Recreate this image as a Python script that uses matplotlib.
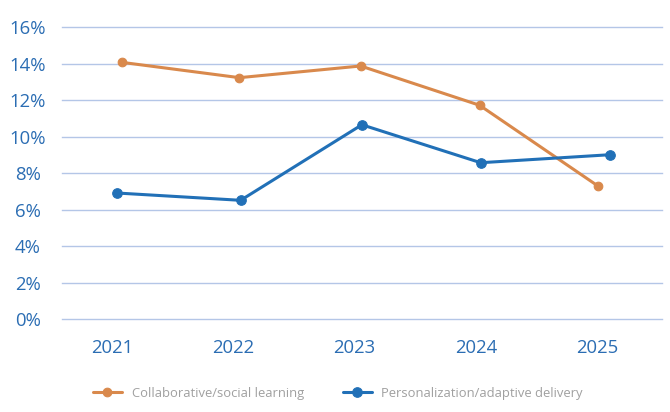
import matplotlib
matplotlib.use("Agg")
import matplotlib.pyplot as plt
from matplotlib.ticker import FuncFormatter

plt.rcParams['font.family'] = ['Open Sans', 'DejaVu Sans']

years = [2021, 2022, 2023, 2024, 2025]
collab_x = [2021.08, 2022.05, 2023.05, 2024.03, 2025.01]
collab_y = [14.08, 13.24, 13.88, 11.73, 7.29]
person_x = [2021.04, 2022.06, 2023.06, 2024.04, 2025.11]
person_y = [6.92, 6.52, 10.66, 8.58, 9.02]
series_names = ["Collaborative/social learning", "Personalization/adaptive delivery"]
y_ticks = [0, 2, 4, 6, 8, 10, 12, 14, 16]

orange = "#D9894C"
blue = "#2170B7"
tick_color = "#2B6DB3"
grid_color = "#B4C6E7"

fig = plt.figure(figsize=(6.7, 4.12), dpi=100)
W, H = 670, 412
left, right, bottom, top = 62, 662, 319.3, 27.3
ax = fig.add_axes([left / W, 1 - bottom / H, (right - left) / W, (bottom - top) / H])

ax.plot(collab_x, collab_y, color=orange, lw=2.2, marker='o', ms=6.2, mew=0.8,
        label=series_names[0], solid_capstyle='round', zorder=3)
ax.plot(person_x, person_y, color=blue, lw=2.2, marker='o', ms=6.9, mew=0.8,
        label=series_names[1], solid_capstyle='round', zorder=3)

ax.set_xlim(2020.587, 2025.535)
ax.set_ylim(0, 16)
ax.set_xticks(years)
ax.set_xticklabels([str(y) for y in years])
ax.set_yticks(y_ticks)
ax.yaxis.set_major_formatter(FuncFormatter(lambda v, p: f"{int(v)}%"))
ax.grid(axis='y', color=grid_color, lw=1.0)
for gl in ax.get_ygridlines():
    gl.set_clip_on(False)
ax.set_axisbelow(True)
for s in ax.spines.values():
    s.set_visible(False)
ax.tick_params(axis='both', length=0, labelsize=13.3, labelcolor=tick_color)
ax.tick_params(axis='x', pad=14)
ax.tick_params(axis='y', pad=24.5)
for lbl in ax.get_yticklabels():
    lbl.set_horizontalalignment('center')

leg = fig.legend(loc='center', bbox_to_anchor=(338 / W, 18.5 / H), ncol=2, frameon=False,
                 fontsize=9.4, handlelength=2.2, handletextpad=0.75, columnspacing=3.0,
                 labelcolor='#A0A0A0')

fig.savefig("out.png", dpi=100)
